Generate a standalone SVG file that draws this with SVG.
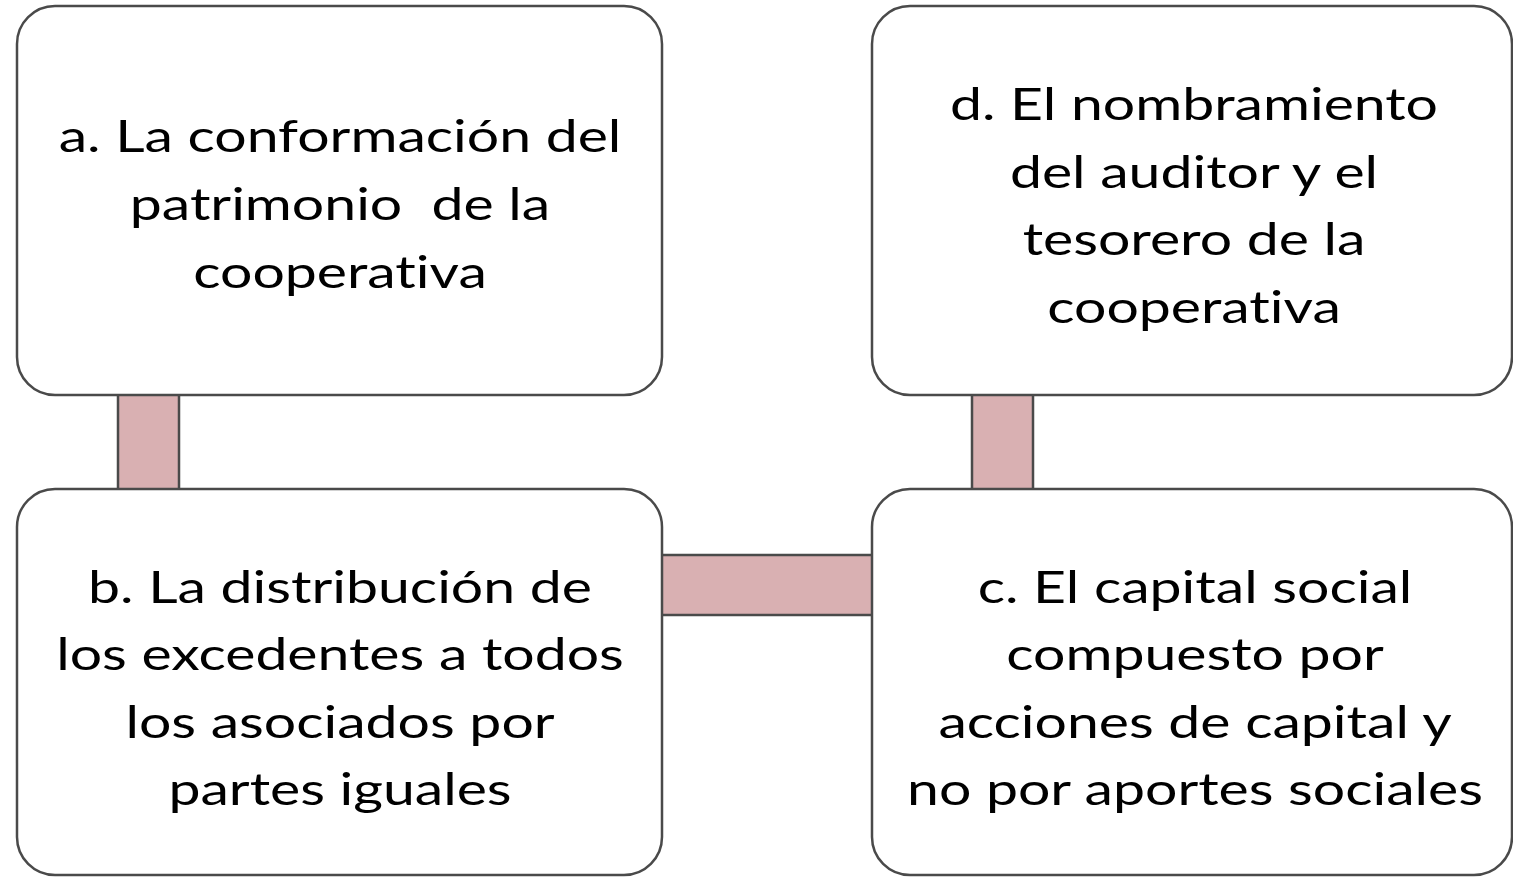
<svg xmlns="http://www.w3.org/2000/svg" width="1513" height="877" viewBox="0 0 1513 877">
<style>
.box{fill:#ffffff;stroke:#4a4a4a;stroke-width:2.5}
.conn{fill:#d9b0b2;stroke:#4a4a4a;stroke-width:2.5}
.t{font-family:Lato,"Liberation Sans",sans-serif;font-size:45px;fill:#000000;text-anchor:middle;font-variant-ligatures:none;font-feature-settings:"liga" 0;white-space:pre}
</style>
<rect width="1513" height="877" fill="#ffffff"/>
<g id="connectors">
<rect class="conn" x="118" y="380" width="61" height="124"/>
<rect class="conn" x="972" y="380" width="61" height="124"/>
<rect class="conn" x="645" y="555" width="244" height="60"/>
</g>
<g id="node-a">
<rect class="box" x="17" y="6" width="645" height="389" rx="38" ry="38"/>
<text class="t" transform="translate(340 152) scale(1.27 1)">a. La conformación del</text>
<text class="t" xml:space="preserve" transform="translate(340 220) scale(1.27 1)">patrimonio  de la</text>
<text class="t" transform="translate(340 288) scale(1.27 1)">cooperativa</text>
</g>
<g id="node-d">
<rect class="box" x="872" y="6" width="640" height="389" rx="38" ry="38"/>
<text class="t" transform="translate(1194 120) scale(1.27 1)">d. El nombramiento</text>
<text class="t" transform="translate(1194 188) scale(1.27 1)">del auditor y el</text>
<text class="t" transform="translate(1194 255) scale(1.27 1)">tesorero de la</text>
<text class="t" transform="translate(1194 323) scale(1.27 1)">cooperativa</text>
</g>
<g id="node-b">
<rect class="box" x="17" y="489" width="645" height="386" rx="38" ry="38"/>
<text class="t" transform="translate(340 603) scale(1.27 1)">b. La distribución de</text>
<text class="t" transform="translate(340 670) scale(1.27 1)">los excedentes a todos</text>
<text class="t" transform="translate(340 738) scale(1.27 1)">los asociados por</text>
<text class="t" transform="translate(340 805) scale(1.27 1)">partes iguales</text>
</g>
<g id="node-c">
<rect class="box" x="872" y="489" width="640" height="386" rx="38" ry="38"/>
<text class="t" transform="translate(1195 603) scale(1.27 1)">c. El capital social</text>
<text class="t" transform="translate(1195 670) scale(1.27 1)">compuesto por</text>
<text class="t" transform="translate(1195 738) scale(1.27 1)">acciones de capital y</text>
<text class="t" transform="translate(1195 805) scale(1.27 1)">no por aportes sociales</text>
</g>
</svg>
